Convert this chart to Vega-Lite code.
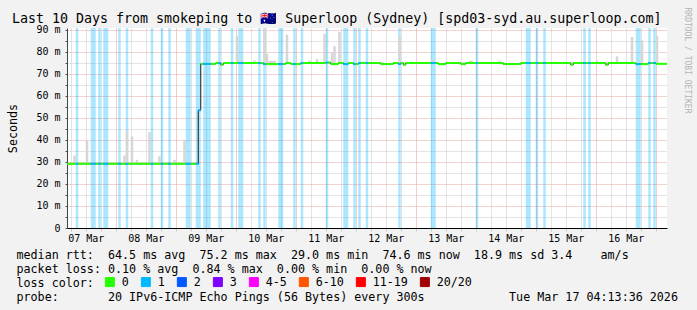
{
  "$schema": "https://vega.github.io/schema/vega-lite/v6.json",
  "width": 600,
  "height": 200,
  "autosize": "none",
  "padding": {"left": 67, "top": 28, "right": 30, "bottom": 82},
  "background": "#f2f2f2",
  "config": {
    "font": "DejaVu Sans Mono",
    "view": {"stroke": null, "fill": "#ffffff"}
  },
  "title": {
    "text": "Last 10 Days from smokeping to \ud83c\udde6\ud83c\uddfa Superloop (Sydney) [spd03-syd.au.superloop.com]",
    "anchor": "start",
    "frame": "group",
    "dx": -55,
    "dy": 20,
    "offset": 2,
    "font": "DejaVu Sans Mono",
    "fontSize": 13.3,
    "fontWeight": "normal",
    "color": "#000000"
  },
  "datasets": {
    "seg": [
      {"a":"2026-03-07T04:00Z","b":"2026-03-07T08:00Z","m":29.2,"l":"0"},
      {"a":"2026-03-07T08:00Z","b":"2026-03-07T09:00Z","m":29.2,"l":"1"},
      {"a":"2026-03-07T09:00Z","b":"2026-03-07T14:00Z","m":29.2,"l":"0"},
      {"a":"2026-03-07T14:00Z","b":"2026-03-07T16:00Z","m":29.2,"l":"1"},
      {"a":"2026-03-07T16:00Z","b":"2026-03-07T17:00Z","m":29.2,"l":"0"},
      {"a":"2026-03-07T17:00Z","b":"2026-03-07T18:00Z","m":29.2,"l":"1"},
      {"a":"2026-03-07T18:00Z","b":"2026-03-07T19:00Z","m":29.2,"l":"0"},
      {"a":"2026-03-07T19:00Z","b":"2026-03-07T21:00Z","m":29.2,"l":"1"},
      {"a":"2026-03-07T21:00Z","b":"2026-03-08T01:00Z","m":29.2,"l":"0"},
      {"a":"2026-03-08T01:00Z","b":"2026-03-08T02:00Z","m":29.2,"l":"1"},
      {"a":"2026-03-08T02:00Z","b":"2026-03-08T04:00Z","m":29.2,"l":"0"},
      {"a":"2026-03-08T04:00Z","b":"2026-03-08T05:00Z","m":29.2,"l":"1"},
      {"a":"2026-03-08T05:00Z","b":"2026-03-08T14:00Z","m":29.2,"l":"0"},
      {"a":"2026-03-08T14:00Z","b":"2026-03-08T15:00Z","m":29.2,"l":"1"},
      {"a":"2026-03-08T15:00Z","b":"2026-03-08T18:00Z","m":29.2,"l":"0"},
      {"a":"2026-03-08T18:00Z","b":"2026-03-08T19:00Z","m":29.2,"l":"1"},
      {"a":"2026-03-08T19:00Z","b":"2026-03-08T21:00Z","m":29.2,"l":"0"},
      {"a":"2026-03-08T21:00Z","b":"2026-03-08T22:00Z","m":29.2,"l":"1"},
      {"a":"2026-03-08T22:00Z","b":"2026-03-09T04:00Z","m":29.2,"l":"0"},
      {"a":"2026-03-09T04:00Z","b":"2026-03-09T06:00Z","m":29.2,"l":"1"},
      {"a":"2026-03-09T06:00Z","b":"2026-03-09T08:00Z","m":29.2,"l":"0"},
      {"a":"2026-03-09T08:00Z","b":"2026-03-09T09:00Z","m":29.2,"l":"1"},
      {"a":"2026-03-09T09:00Z","b":"2026-03-09T10:00Z","m":53.5,"l":"1"},
      {"a":"2026-03-09T10:00Z","b":"2026-03-09T11:00Z","m":74.6,"l":"0"},
      {"a":"2026-03-09T11:00Z","b":"2026-03-09T14:00Z","m":74.6,"l":"1"},
      {"a":"2026-03-09T14:00Z","b":"2026-03-09T16:00Z","m":74.6,"l":"0"},
      {"a":"2026-03-09T16:00Z","b":"2026-03-09T17:00Z","m":75.0,"l":"0"},
      {"a":"2026-03-09T17:00Z","b":"2026-03-09T18:00Z","m":75.0,"l":"1"},
      {"a":"2026-03-09T18:00Z","b":"2026-03-09T19:00Z","m":74.2,"l":"0"},
      {"a":"2026-03-09T19:00Z","b":"2026-03-09T22:00Z","m":75.0,"l":"0"},
      {"a":"2026-03-09T22:00Z","b":"2026-03-09T23:00Z","m":75.0,"l":"1"},
      {"a":"2026-03-09T23:00Z","b":"2026-03-10T01:00Z","m":75.0,"l":"0"},
      {"a":"2026-03-10T01:00Z","b":"2026-03-10T03:00Z","m":75.0,"l":"1"},
      {"a":"2026-03-10T03:00Z","b":"2026-03-10T09:00Z","m":75.0,"l":"0"},
      {"a":"2026-03-10T09:00Z","b":"2026-03-10T10:00Z","m":75.0,"l":"1"},
      {"a":"2026-03-10T10:00Z","b":"2026-03-10T11:00Z","m":75.0,"l":"0"},
      {"a":"2026-03-10T11:00Z","b":"2026-03-10T12:00Z","m":74.5,"l":"1"},
      {"a":"2026-03-10T12:00Z","b":"2026-03-10T17:00Z","m":74.5,"l":"0"},
      {"a":"2026-03-10T17:00Z","b":"2026-03-10T19:00Z","m":74.5,"l":"1"},
      {"a":"2026-03-10T19:00Z","b":"2026-03-10T20:00Z","m":74.5,"l":"0"},
      {"a":"2026-03-10T20:00Z","b":"2026-03-10T22:00Z","m":75.0,"l":"0"},
      {"a":"2026-03-10T22:00Z","b":"2026-03-10T23:00Z","m":74.5,"l":"0"},
      {"a":"2026-03-10T23:00Z","b":"2026-03-11T00:00Z","m":74.5,"l":"1"},
      {"a":"2026-03-11T00:00Z","b":"2026-03-11T02:00Z","m":74.5,"l":"0"},
      {"a":"2026-03-11T02:00Z","b":"2026-03-11T03:00Z","m":75.0,"l":"1"},
      {"a":"2026-03-11T03:00Z","b":"2026-03-11T12:00Z","m":75.0,"l":"0"},
      {"a":"2026-03-11T12:00Z","b":"2026-03-11T13:00Z","m":75.2,"l":"1"},
      {"a":"2026-03-11T13:00Z","b":"2026-03-11T14:00Z","m":75.2,"l":"0"},
      {"a":"2026-03-11T14:00Z","b":"2026-03-11T17:00Z","m":74.5,"l":"0"},
      {"a":"2026-03-11T17:00Z","b":"2026-03-11T19:00Z","m":75.0,"l":"0"},
      {"a":"2026-03-11T19:00Z","b":"2026-03-11T21:00Z","m":74.5,"l":"1"},
      {"a":"2026-03-11T21:00Z","b":"2026-03-11T23:00Z","m":75.0,"l":"0"},
      {"a":"2026-03-11T23:00Z","b":"2026-03-12T00:00Z","m":74.5,"l":"1"},
      {"a":"2026-03-12T00:00Z","b":"2026-03-12T01:00Z","m":74.5,"l":"0"},
      {"a":"2026-03-12T01:00Z","b":"2026-03-12T02:00Z","m":75.0,"l":"1"},
      {"a":"2026-03-12T02:00Z","b":"2026-03-12T04:00Z","m":75.0,"l":"0"},
      {"a":"2026-03-12T04:00Z","b":"2026-03-12T05:00Z","m":75.0,"l":"1"},
      {"a":"2026-03-12T05:00Z","b":"2026-03-12T10:00Z","m":75.0,"l":"0"},
      {"a":"2026-03-12T10:00Z","b":"2026-03-12T15:00Z","m":74.5,"l":"0"},
      {"a":"2026-03-12T15:00Z","b":"2026-03-12T17:00Z","m":75.0,"l":"0"},
      {"a":"2026-03-12T17:00Z","b":"2026-03-12T18:00Z","m":74.5,"l":"1"},
      {"a":"2026-03-12T18:00Z","b":"2026-03-12T19:00Z","m":75.0,"l":"0"},
      {"a":"2026-03-12T19:00Z","b":"2026-03-12T20:00Z","m":74.2,"l":"0"},
      {"a":"2026-03-12T20:00Z","b":"2026-03-13T06:00Z","m":75.0,"l":"0"},
      {"a":"2026-03-13T06:00Z","b":"2026-03-13T08:00Z","m":75.0,"l":"1"},
      {"a":"2026-03-13T08:00Z","b":"2026-03-13T09:00Z","m":75.0,"l":"0"},
      {"a":"2026-03-13T09:00Z","b":"2026-03-13T12:00Z","m":74.5,"l":"0"},
      {"a":"2026-03-13T12:00Z","b":"2026-03-13T18:00Z","m":75.0,"l":"0"},
      {"a":"2026-03-13T18:00Z","b":"2026-03-13T20:00Z","m":74.5,"l":"0"},
      {"a":"2026-03-13T20:00Z","b":"2026-03-14T00:00Z","m":75.0,"l":"0"},
      {"a":"2026-03-14T00:00Z","b":"2026-03-14T01:00Z","m":75.0,"l":"1"},
      {"a":"2026-03-14T01:00Z","b":"2026-03-14T11:00Z","m":75.0,"l":"0"},
      {"a":"2026-03-14T11:00Z","b":"2026-03-14T18:00Z","m":74.5,"l":"0"},
      {"a":"2026-03-14T18:00Z","b":"2026-03-14T20:00Z","m":75.0,"l":"0"},
      {"a":"2026-03-14T20:00Z","b":"2026-03-14T22:00Z","m":75.0,"l":"1"},
      {"a":"2026-03-14T22:00Z","b":"2026-03-15T00:00Z","m":75.0,"l":"0"},
      {"a":"2026-03-15T00:00Z","b":"2026-03-15T01:00Z","m":75.0,"l":"1"},
      {"a":"2026-03-15T01:00Z","b":"2026-03-15T03:00Z","m":75.0,"l":"0"},
      {"a":"2026-03-15T03:00Z","b":"2026-03-15T04:00Z","m":75.0,"l":"1"},
      {"a":"2026-03-15T04:00Z","b":"2026-03-15T14:00Z","m":75.0,"l":"0"},
      {"a":"2026-03-15T14:00Z","b":"2026-03-15T15:00Z","m":74.2,"l":"0"},
      {"a":"2026-03-15T15:00Z","b":"2026-03-15T19:00Z","m":75.0,"l":"0"},
      {"a":"2026-03-15T19:00Z","b":"2026-03-15T20:00Z","m":75.0,"l":"1"},
      {"a":"2026-03-15T20:00Z","b":"2026-03-15T21:00Z","m":75.0,"l":"0"},
      {"a":"2026-03-15T21:00Z","b":"2026-03-15T22:00Z","m":75.0,"l":"1"},
      {"a":"2026-03-15T22:00Z","b":"2026-03-16T04:00Z","m":75.0,"l":"0"},
      {"a":"2026-03-16T04:00Z","b":"2026-03-16T05:00Z","m":74.2,"l":"0"},
      {"a":"2026-03-16T05:00Z","b":"2026-03-16T16:00Z","m":75.0,"l":"0"},
      {"a":"2026-03-16T16:00Z","b":"2026-03-16T18:00Z","m":74.5,"l":"1"},
      {"a":"2026-03-16T18:00Z","b":"2026-03-16T21:00Z","m":74.5,"l":"0"},
      {"a":"2026-03-16T21:00Z","b":"2026-03-16T22:00Z","m":75.0,"l":"1"},
      {"a":"2026-03-16T22:00Z","b":"2026-03-16T23:00Z","m":75.0,"l":"0"},
      {"a":"2026-03-16T23:00Z","b":"2026-03-17T00:00Z","m":75.0,"l":"1"},
      {"a":"2026-03-17T00:00Z","b":"2026-03-17T05:00Z","m":74.6,"l":"0"}
    ],
    "smk": [
      {"a":"2026-03-07T07:00Z","b":"2026-03-07T08:00Z","lo":29.2,"hi":32.9},
      {"a":"2026-03-07T12:00Z","b":"2026-03-07T13:00Z","lo":29.2,"hi":39.6},
      {"a":"2026-03-08T03:00Z","b":"2026-03-08T04:00Z","lo":29.2,"hi":32.9},
      {"a":"2026-03-08T04:00Z","b":"2026-03-08T05:00Z","lo":29.2,"hi":43.9},
      {"a":"2026-03-08T06:00Z","b":"2026-03-08T07:00Z","lo":29.2,"hi":41.6},
      {"a":"2026-03-08T08:00Z","b":"2026-03-08T09:00Z","lo":29.2,"hi":31.0},
      {"a":"2026-03-08T13:00Z","b":"2026-03-08T14:00Z","lo":29.2,"hi":43.5},
      {"a":"2026-03-08T17:00Z","b":"2026-03-08T18:00Z","lo":29.2,"hi":32.6},
      {"a":"2026-03-08T23:00Z","b":"2026-03-09T00:00Z","lo":29.2,"hi":31.0},
      {"a":"2026-03-09T03:00Z","b":"2026-03-09T04:00Z","lo":29.2,"hi":40.1},
      {"a":"2026-03-10T00:00Z","b":"2026-03-10T01:00Z","lo":75.0,"hi":87.4},
      {"a":"2026-03-10T01:00Z","b":"2026-03-10T03:00Z","lo":75.0,"hi":76.2},
      {"a":"2026-03-10T07:00Z","b":"2026-03-10T08:00Z","lo":75.0,"hi":76.2},
      {"a":"2026-03-10T11:00Z","b":"2026-03-10T12:00Z","lo":74.5,"hi":90.9},
      {"a":"2026-03-10T12:00Z","b":"2026-03-10T13:00Z","lo":74.5,"hi":79.1},
      {"a":"2026-03-10T13:00Z","b":"2026-03-10T16:00Z","lo":74.5,"hi":76.0},
      {"a":"2026-03-10T20:00Z","b":"2026-03-10T21:00Z","lo":75.0,"hi":87.9},
      {"a":"2026-03-11T05:00Z","b":"2026-03-11T06:00Z","lo":75.0,"hi":76.0},
      {"a":"2026-03-11T08:00Z","b":"2026-03-11T09:00Z","lo":75.0,"hi":76.8},
      {"a":"2026-03-11T11:00Z","b":"2026-03-11T12:00Z","lo":75.0,"hi":88.3},
      {"a":"2026-03-11T14:00Z","b":"2026-03-11T15:00Z","lo":74.5,"hi":79.5},
      {"a":"2026-03-11T15:00Z","b":"2026-03-11T16:00Z","lo":74.5,"hi":82.6},
      {"a":"2026-03-11T17:00Z","b":"2026-03-11T18:00Z","lo":75.0,"hi":89.1},
      {"a":"2026-03-12T17:00Z","b":"2026-03-12T18:00Z","lo":74.5,"hi":87.1},
      {"a":"2026-03-13T06:00Z","b":"2026-03-13T07:00Z","lo":75.0,"hi":76.8},
      {"a":"2026-03-13T21:00Z","b":"2026-03-13T23:00Z","lo":75.0,"hi":76.0},
      {"a":"2026-03-14T09:00Z","b":"2026-03-14T10:00Z","lo":75.0,"hi":76.0},
      {"a":"2026-03-16T00:00Z","b":"2026-03-16T01:00Z","lo":75.0,"hi":76.0},
      {"a":"2026-03-16T08:00Z","b":"2026-03-16T09:00Z","lo":75.0,"hi":78.0},
      {"a":"2026-03-16T14:00Z","b":"2026-03-16T15:00Z","lo":75.0,"hi":86.8},
      {"a":"2026-03-16T18:00Z","b":"2026-03-16T19:00Z","lo":74.5,"hi":85.3},
      {"a":"2026-03-17T00:00Z","b":"2026-03-17T01:00Z","lo":74.6,"hi":87.4}
    ]
  },
  "encoding": {
    "x": {
      "field": "a",
      "type": "temporal",
      "scale": {
        "type": "utc",
        "domain": [
          {"year": 2026, "month": 3, "date": 7, "hours": 4, "minutes": 30, "utc": true},
          {"year": 2026, "month": 3, "date": 17, "hours": 4, "minutes": 30, "utc": true}
        ]
      },
      "axis": {
        "tickCount": 40,
        "labelExpr": "utchours(datum.value) == 12 ? utcFormat(datum.value, '%d %b') : ''",
        "labelOverlap": false,
        "labelFlush": false,
        "labelFont": "DejaVu Sans Mono",
        "labelFontSize": 10,
        "labelColor": "#000000",
        "labelPadding": 2,
        "tickSize": 3,
        "tickColor": "#c8c8c8",
        "grid": true,
        "gridDash": [1, 1],
        "gridWidth": 1,
        "gridColor": {"condition": {"test": "utchours(datum.value) == 0", "value": "#e39a9a"}, "value": "#c8c8c8"},
        "domainColor": "#000000",
        "domainWidth": 1,
        "title": [
          "median rtt:\u00a0\u00a064.5 ms avg\u00a0\u00a075.2 ms max\u00a0\u00a029.0 ms min\u00a0\u00a074.6 ms now\u00a0\u00a018.9 ms sd\u00a03.4\u00a0\u00a0\u00a0\u00a0am/s",
          "packet loss:\u00a00.10 % avg\u00a0\u00a00.84 % max\u00a0\u00a00.00 % min\u00a0\u00a00.00 % now",
          "loss color:",
          "probe:\u00a0\u00a0\u00a0\u00a0\u00a0\u00a0\u00a020 IPv6-ICMP Echo Pings (56 Bytes) every 300s\u00a0\u00a0\u00a0\u00a0\u00a0\u00a0\u00a0\u00a0\u00a0\u00a0\u00a0\u00a0Tue Mar 17 04:13:36 2026"
        ],
        "titleFont": "DejaVu Sans Mono",
        "titleFontSize": 11.7,
        "titleFontWeight": "normal",
        "titleColor": "#000000",
        "titleAnchor": "start",
        "titleAlign": "left",
        "titleBaseline": "alphabetic",
        "titleLineHeight": 14,
        "titleX": -51,
        "titleY": 30.5
      }
    }
  },
  "layer": [
    {
      "data": {"name": "seg"},
      "transform": [{"filter": "datum.l != '0'"}],
      "mark": {"type": "rect", "opacity": 0.33, "clip": true},
      "encoding": {
        "x2": {"field": "b"},
        "color": {
          "field": "l",
          "type": "nominal",
          "scale": {
            "domain": ["0", "1", "2", "3", "4-5", "6-10", "11-19", "20/20"],
            "range": ["#26ff00", "#00b8ff", "#0059ff", "#7e00ff", "#ff00ff", "#ff5500", "#ff0000", "#a10000"]
          },
          "legend": {
            "orient": "none",
            "direction": "horizontal",
            "legendX": 37,
            "legendY": 248,
            "title": null,
            "padding": 0,
            "symbolType": "square",
            "symbolSize": 81,
            "symbolStrokeColor": "#000000",
            "symbolStrokeWidth": 1,
            "symbolOpacity": 1,
            "labelFont": "DejaVu Sans Mono",
            "labelFontSize": 11.7,
            "labelColor": "#000000",
            "labelOffset": 6,
            "columnPadding": 10,
            "encode": {"symbols": {"update": {"opacity": {"value": 1}}}}
          }
        }
      }
    },
    {
      "data": {"name": "smk"},
      "mark": {"type": "rect", "color": "#d6d6d6", "clip": true},
      "encoding": {
        "x2": {"field": "b"},
        "y": {
          "field": "lo",
          "type": "quantitative",
          "scale": {"domain": [0, 90.9], "nice": false, "zero": false},
          "axis": {
            "orient": "right",
            "labels": false,
            "ticks": false,
            "domain": false,
            "grid": false,
            "title": "RRDTOOL / TOBI OETIKER",
            "titleAngle": 90,
            "titleFont": "DejaVu Sans Mono",
            "titleFontSize": 8,
            "titleFontWeight": "normal",
            "titleColor": "#b4b4b4",
            "titleX": 19,
            "titleY": 32,
            "titleAlign": "center",
            "titleBaseline": "middle"
          }
        },
        "y2": {"field": "hi"}
      }
    },
    {
      "data": {"name": "seg"},
      "mark": {"type": "line", "interpolate": "step-after", "color": "#1a1a1a", "strokeWidth": 1, "clip": true},
      "encoding": {
        "y": {
          "field": "m",
          "type": "quantitative",
          "scale": {"domain": [0, 90.9], "nice": false, "zero": false},
          "axis": {
            "values": [0, 5, 10, 15, 20, 25, 30, 35, 40, 45, 50, 55, 60, 65, 70, 75, 80, 85, 90],
            "labelExpr": "datum.value == 0 ? '0' : (datum.value % 10 == 0 ? datum.value + ' m' : '')",
            "labelFont": "DejaVu Sans Mono",
            "labelFontSize": 10,
            "labelColor": "#000000",
            "labelPadding": 5,
            "tickSize": 2,
            "tickColor": "#555555",
            "grid": true,
            "gridDash": [1, 1],
            "gridWidth": 1,
            "gridColor": {"condition": {"test": "datum.value % 10 == 0", "value": "#e8a4a4"}, "value": "#c8c8c8"},
            "domainColor": "#444444",
            "title": "Seconds",
            "titleFont": "DejaVu Sans Mono",
            "titleFontSize": 11.7,
            "titleFontWeight": "normal",
            "titleColor": "#000000",
            "titleAngle": -90,
            "titleX": -55,
            "titleY": 100,
            "titleAlign": "center",
            "titleBaseline": "middle"
          }
        }
      }
    },
    {
      "data": {"name": "seg"},
      "mark": {"type": "rule", "strokeWidth": 2, "clip": true},
      "encoding": {
        "x2": {"field": "b"},
        "y": {
          "field": "m",
          "type": "quantitative",
          "scale": {"domain": [0, 90.9], "nice": false, "zero": false},
          "axis": null
        },
        "color": {"field": "l", "type": "nominal", "legend": null}
      }
    }
  ],
  "resolve": {"axis": {"y": "independent"}}
}
